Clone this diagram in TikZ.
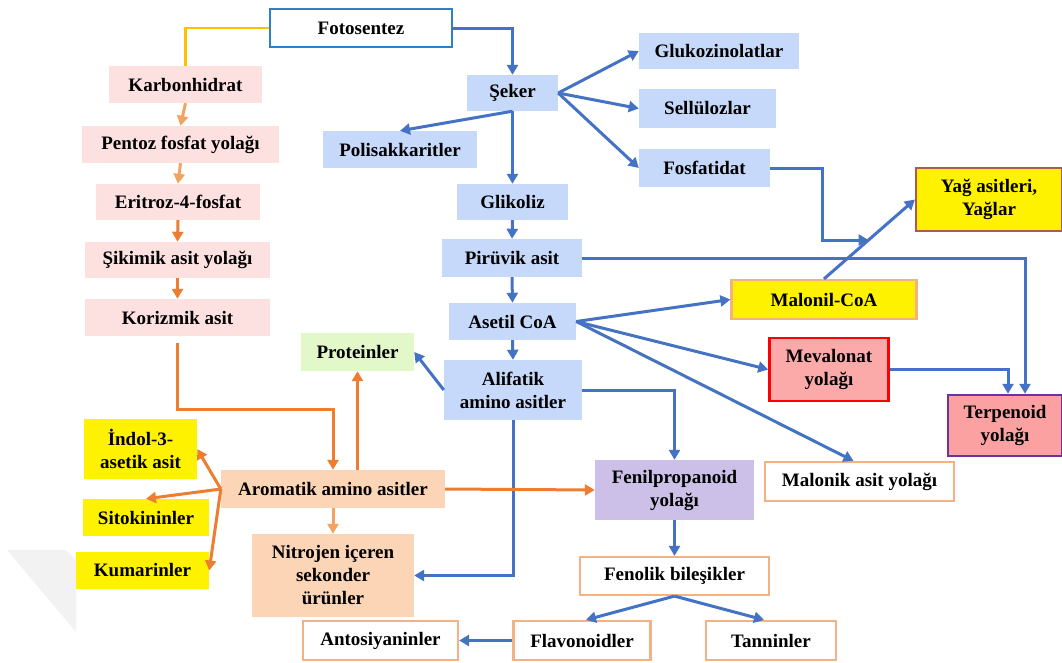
\documentclass[tikz,border=0pt]{standalone}
\usepackage{fontspec}
\setmainfont{Liberation Serif}
\usetikzlibrary{arrows.meta, positioning, calc}

\definecolor{mavicizgi}{HTML}{4472C4}
\definecolor{mavidolgu}{HTML}{C6D9FA}
\definecolor{pembedolgu}{HTML}{FDE1E1}
\definecolor{seftali}{HTML}{FBD5B5}
\definecolor{yesildolgu}{HTML}{E2F8C9}
\definecolor{lavanta}{HTML}{CCC0E8}
\definecolor{somon}{HTML}{FBA9A9}
\definecolor{turuncu}{HTML}{ED7D31}
\definecolor{acikturuncu}{HTML}{F3A35F}
\definecolor{kenarturuncu}{HTML}{F4B183}
\definecolor{altin}{HTML}{FFC000}
\definecolor{gokmavi}{HTML}{2E80C8}
\definecolor{kiremit}{HTML}{B5574F}
\definecolor{mor}{HTML}{7030A0}

\begin{document}
\begin{tikzpicture}[x=1pt, y=-1pt]
	\tikzset{>={Triangle[length=10pt,width=11pt]},
		kutu/.style={inner sep=0pt, align=center, minimum height=37pt, font=\bfseries\fontsize{19}{23}\selectfont},
		mavikutu/.style={kutu, fill=mavidolgu},
		pembekutu/.style={kutu, fill=pembedolgu},
		seftalikutu/.style={kutu, fill=seftali},
		sarikutu/.style={kutu, fill=yellow},
		beyazkutu/.style={kutu, fill=white, draw=kenarturuncu, line width=2.2pt},
		mavi/.style={->, draw=mavicizgi, line width=3pt},
		turuncuok/.style={->, draw=turuncu, line width=3pt},
		acikok/.style={->, draw=acikturuncu, line width=3pt}}
	\useasboundingbox (0,0) rectangle (1062,662);
	\fill[gray!10] (7,550) -- (66,550) -- (76,560) -- (76,632) -- cycle;

	% sol sutun
	\node[kutu, fill=white, draw=gokmavi, line width=2.5pt, minimum width=182, minimum height=38] (fotosentez) at (361,28) {Fotosentez};
	\node[pembekutu, minimum width=153] (karbonhidrat) at (185.5,84.5) {Karbonhidrat};
	\node[pembekutu, minimum width=197] (pentoz) at (180.5,144.5) {Pentoz fosfat yolağı};
	\node[pembekutu, minimum width=164, minimum height=36] (eritroz) at (178,202) {Eritroz-4-fosfat};
	\node[pembekutu, minimum width=185, minimum height=36] (sikimik) at (177.5,260) {Şikimik asit yolağı};
	\node[pembekutu, minimum width=185] (korizmik) at (177.5,317.5) {Korizmik asit};

	% orta sutun
	\node[mavikutu, minimum width=91, minimum height=36] (seker) at (512.5,93) {Şeker};
	\node[mavikutu, minimum width=154] (polisakkarit) at (400,149.5) {Polisakkaritler};
	\node[mavikutu, minimum width=111, minimum height=36] (glikoliz) at (512.5,202) {Glikoliz};
	\node[mavikutu, minimum width=140, minimum height=38] (piruvik) at (512,258) {Pirüvik asit};
	\node[mavikutu, minimum width=127] (asetil) at (512.5,321.5) {Asetil CoA};
	\node[mavikutu, minimum width=138, minimum height=60] (alifatik) at (513,390) {Alifatik\\amino asitler};

	% sag taraf
	\node[mavikutu, minimum width=160, minimum height=36] (glukozinolat) at (719,51) {Glukozinolatlar};
	\node[mavikutu, minimum width=137, minimum height=39] (sellulozlar) at (707.5,108.5) {Sellülozlar};
	\node[mavikutu, minimum width=131, minimum height=38] (fosfatidat) at (704.5,168) {Fosfatidat};
	\node[sarikutu, draw=kiremit, line width=2.2pt, minimum width=146, minimum height=63] (yag) at (989,199.5) {Yağ asitleri,\\Yağlar};
	\node[sarikutu, draw=kenarturuncu, line width=2.2pt, minimum width=185, minimum height=39] (malonil) at (824,299.5) {Malonil-CoA};
	\node[kutu, fill=somon, draw=red, line width=2.5pt, minimum width=119, minimum height=63] (mevalonat) at (829,369.5) {Mevalonat\\yolağı};
	\node[kutu, fill=somon!95!red, draw=mor, line width=2.5pt, minimum width=114, minimum height=61] (terpenoid) at (1005,425.5) {Terpenoid\\yolağı};
	\node[beyazkutu, minimum width=189, minimum height=39] (malonik) at (859.5,481.5) {Malonik asit yolağı};
	\node[kutu, fill=lavanta, minimum width=159, minimum height=60] (fenil) at (674.5,490) {Fenilpropanoid\\yolağı};
	\node[beyazkutu, minimum width=189, minimum height=38] (fenolik) at (674.5,576) {Fenolik bileşikler};
	\node[beyazkutu, minimum width=137, minimum height=39] (flavonoid) at (582,640.5) {Flavonoidler};
	\node[beyazkutu, minimum width=130, minimum height=39] (tannin) at (771,640.5) {Tanninler};
	\node[beyazkutu, minimum width=155, minimum height=39] (antosiyanin) at (380.5,640.5) {Antosiyaninler};

	% amino asitler
	\node[kutu, fill=yesildolgu, minimum width=113, minimum height=38] (proteinler) at (357.5,352) {Proteinler};
	\node[seftalikutu, minimum width=224, minimum height=38] (aromatik) at (333,489) {Aromatik amino asitler};
	\node[seftalikutu, minimum width=162, minimum height=83] (nitrojen) at (333,575.5) {Nitrojen içeren\\sekonder\\ürünler};
	\node[sarikutu, minimum width=113, minimum height=60] (indol) at (140.5,449) {İndol-3-\\asetik asit};
	\node[sarikutu, minimum width=126] (sitokinin) at (146,517.5) {Sitokininler};
	\node[sarikutu, minimum width=133] (kumarin) at (142.5,570.5) {Kumarinler};

	\coordinate (yagbirlesme) at ($(malonil.north)!0.49!(yag.west)$);

	\draw[draw=altin, line width=2.5pt] (fotosentez.west) -| (karbonhidrat.north);
	\draw[mavi] (fotosentez.east) -| (seker.north);
	\draw[acikok] (karbonhidrat.south) -- (pentoz.north);
	\draw[acikok] (pentoz.south) -- (eritroz.north);
	\draw[turuncuok] (eritroz.south) -- (sikimik.north);
	\draw[turuncuok] (sikimik.south) -- (korizmik.north);
	\draw[turuncuok, shorten <=7pt] (korizmik.south) -- ++(0,73) -| (aromatik.north);

	\draw[mavi] (seker.south) -- (polisakkarit.north);
	\draw[mavi] (seker.south) -- (glikoliz.north);
	\draw[mavi] (glikoliz.south) -- (piruvik.north);
	\draw[mavi] (piruvik.south) -- (asetil.north);
	\draw[mavi] (asetil.south) -- (alifatik.north);
	\draw[mavi] (seker.east) -- (glukozinolat.west);
	\draw[mavi] (seker.east) -- (sellulozlar.west);
	\draw[mavi] (seker.east) -- (fosfatidat.west);
	\draw[mavi] (fosfatidat.east) -- ++(52,0) |- (yagbirlesme);
	\draw[mavi] (malonil.north) -- (yag.west);
	\draw[mavi] (piruvik.east) -| ([xshift=20pt]terpenoid.north);
	\draw[mavi] (mevalonat.east) -| ([xshift=3pt]terpenoid.north);
	\draw[mavi] (asetil.east) -- (malonil.west);
	\draw[mavi] (asetil.east) -- (mevalonat.west);
	\draw[mavi] (asetil.east) -- ([xshift=-6pt]malonik.north);
	\draw[mavi] (alifatik.west) -- (proteinler.east);
	\draw[mavi] (alifatik.south) |- (nitrojen.east);
	\draw[mavi] (alifatik.east) -| (fenil.north);
	\draw[mavi] (fenil.south) -- (fenolik.north);
	\draw[mavi] (fenolik.south) -- ([xshift=4pt]flavonoid.north);
	\draw[mavi] (fenolik.south) -- ([xshift=-7pt]tannin.north);
	\draw[mavi] (flavonoid.west) -- (antosiyanin.east);

	\draw[turuncuok] (aromatik.north -| proteinler.south) -- (proteinler.south);
	\draw[acikok] (aromatik.south) -- (nitrojen.north);
	\draw[turuncuok] (aromatik.east) -- (fenil.west);
	\draw[turuncuok] (aromatik.west) -- (indol.east);
	\draw[turuncuok] (aromatik.west) -- (sitokinin.north);
	\draw[turuncuok] (aromatik.west) -- (kumarin.east);
\end{tikzpicture}
\end{document}
